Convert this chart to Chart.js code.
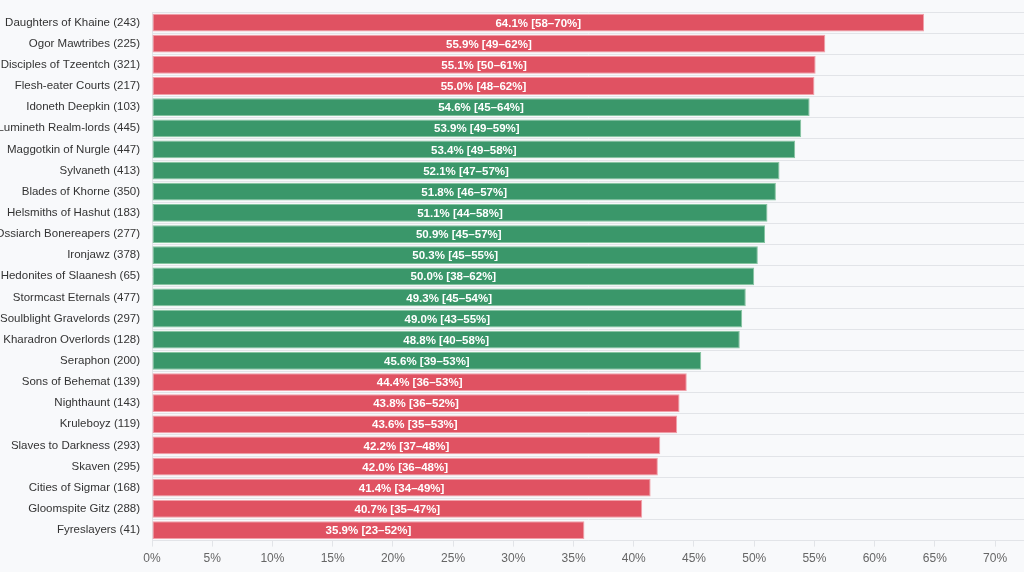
<!DOCTYPE html>
<html>
<head>
<meta charset="utf-8">
<script src="https://cdn.jsdelivr.net/npm/chart.js@4"></script>
<style>
  html, body { margin: 0; padding: 0; background: #f8f9fb; }
  #wrap { width: 1024px; height: 572px; position: relative; }
</style>
</head>
<body>
<div id="wrap"><canvas id="chart"></canvas></div>
<script>
// Win rate by faction, sorted, with 95% CI
const factions = [
  'Daughters of Khaine', 'Ogor Mawtribes', 'Disciples of Tzeentch', 'Flesh-eater Courts',
  'Idoneth Deepkin', 'Lumineth Realm-lords', 'Maggotkin of Nurgle', 'Sylvaneth',
  'Blades of Khorne', 'Helsmiths of Hashut', 'Ossiarch Bonereapers', 'Ironjawz',
  'Hedonites of Slaanesh', 'Stormcast Eternals', 'Soulblight Gravelords', 'Kharadron Overlords',
  'Seraphon', 'Sons of Behemat', 'Nighthaunt', 'Kruleboyz', 'Slaves to Darkness',
  'Skaven', 'Cities of Sigmar', 'Gloomspite Gitz', 'Fyreslayers'
];
const games = [243, 225, 321, 217, 103, 445, 447, 413, 350, 183, 277, 378, 65, 477, 297, 128, 200, 139, 143, 119, 293, 295, 168, 288, 41];
const winRates = [64.1, 55.9, 55.1, 55.0, 54.6, 53.9, 53.4, 52.1, 51.8, 51.1, 50.9, 50.3, 50.0, 49.3, 49.0, 48.8, 45.6, 44.4, 43.8, 43.6, 42.2, 42.0, 41.4, 40.7, 35.9];
const ciLow = [58, 49, 50, 48, 45, 49, 49, 47, 46, 44, 45, 45, 38, 45, 43, 40, 39, 36, 36, 35, 37, 36, 34, 35, 23];
const ciHigh = [70, 62, 61, 62, 64, 59, 58, 57, 57, 58, 57, 55, 62, 54, 55, 58, 53, 53, 52, 53, 48, 48, 49, 47, 52];
const xTicks = [0, 5, 10, 15, 20, 25, 30, 35, 40, 45, 50, 55, 60, 65, 70];

const RED = '#e05262';
const GREEN = '#3a976a';
// balanced band: 45% up to (not incl.) 55%
const inBand = v => v >= 45 && v < 55;

const labels = factions.map((f, i) => `${f} (${games[i]})`);

const barLabels = {
  id: 'barLabels',
  afterDatasetsDraw(chart) {
    const { ctx } = chart;
    const meta = chart.getDatasetMeta(0);
    ctx.save();
    ctx.font = 'bold 11.5px "Liberation Sans", Arial, sans-serif';
    ctx.fillStyle = '#ffffff';
    ctx.textAlign = 'center';
    ctx.textBaseline = 'middle';
    meta.data.forEach((bar, i) => {
      const cx = (bar.x + bar.base) / 2;
      ctx.fillText(`${winRates[i].toFixed(1)}% [${ciLow[i]}–${ciHigh[i]}%]`, cx, bar.y + 1);
    });
    ctx.restore();
  }
};

new Chart(document.getElementById('chart'), {
  type: 'bar',
  data: {
    labels: labels,
    datasets: [{
      data: winRates,
      backgroundColor: winRates.map(v => inBand(v) ? GREEN : RED),
      borderColor: winRates.map(v => inBand(v) ? 'rgba(120,190,150,0.9)' : 'rgba(240,150,160,0.9)'),
      borderWidth: 1,
      borderSkipped: false,
      categoryPercentage: 1,
      barPercentage: 0.84
    }]
  },
  options: {
    indexAxis: 'y',
    responsive: true,
    maintainAspectRatio: false,
    animation: false,
    layout: { padding: { top: 12, right: 0, bottom: 1, left: 0 } },
    plugins: { legend: { display: false }, tooltip: { enabled: false } },
    scales: {
      x: {
        min: 0,
        max: 72.4,
        afterBuildTicks(scale) {
          scale.ticks = xTicks.map(v => ({ value: v }));
        },
        grid: { drawOnChartArea: false, drawTicks: true, tickLength: 6, color: '#e2e4e8' },
        border: { display: true, color: '#e2e4e8' },
        ticks: {
          color: '#666',
          padding: 5,
          font: { size: 12, family: '"Liberation Sans", Arial, sans-serif' },
          callback: v => v + '%'
        }
      },
      y: {
        afterFit(scale) { scale.width = 152; },
        grid: { offset: true, drawTicks: true, tickLength: 9, tickColor: 'rgba(0,0,0,0)', color: '#e2e4e8' },
        border: { display: true, color: '#e2e4e8' },
        ticks: {
          color: '#333',
          padding: 3,
          autoSkip: false,
          font: { size: 11.5, family: '"Liberation Sans", Arial, sans-serif' }
        }
      }
    }
  },
  plugins: [barLabels]
});
</script>
</body>
</html>
